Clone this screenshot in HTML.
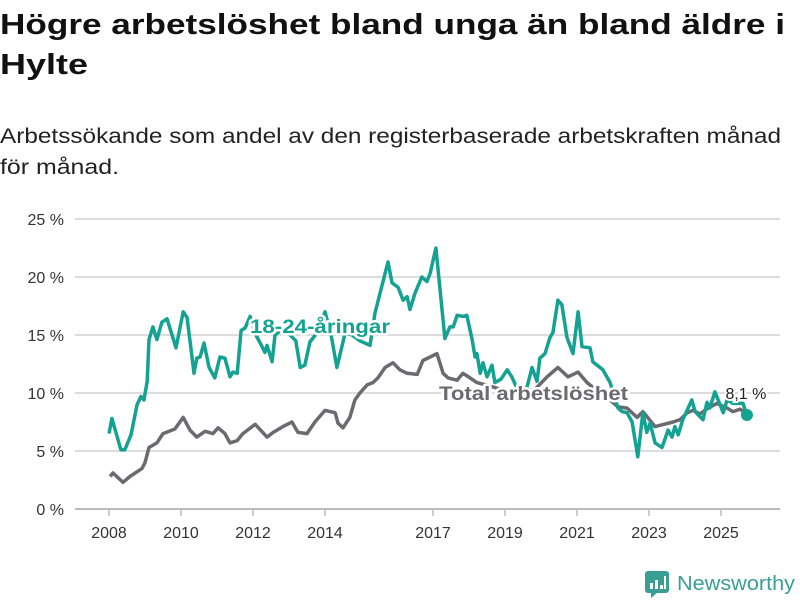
<!DOCTYPE html>
<html><head><meta charset="utf-8"><style>
html,body{margin:0;padding:0;background:#fff;width:800px;height:600px;overflow:hidden}
svg{display:block;font-family:"Liberation Sans",sans-serif}
</style></head><body>
<svg id="chart" width="800" height="600" viewBox="0 0 800 600">
<text x="0" y="34" font-size="29" font-weight="bold" fill="#111" textLength="785" lengthAdjust="spacingAndGlyphs">Högre arbetslöshet bland unga än bland äldre i</text>
<text x="0" y="74" font-size="29" font-weight="bold" fill="#111" textLength="88" lengthAdjust="spacingAndGlyphs">Hylte</text>
<text x="0" y="143" font-size="21" fill="#222" textLength="781" lengthAdjust="spacingAndGlyphs">Arbetssökande som andel av den registerbaserade arbetskraften månad</text>
<text x="0" y="174" font-size="21" fill="#222" textLength="119" lengthAdjust="spacingAndGlyphs">för månad.</text>
<g id="grid"></g>
<g id="yaxis"></g>
<g id="xaxis"></g>
<g id="series"></g>
<g>
<rect x="645" y="571" width="24" height="22" rx="3" fill="#3a9e95"/>
<polygon points="651,593 657,593 651,598" fill="#3a9e95"/>
<rect x="650" y="583" width="3" height="6" fill="#fff"/><rect x="655" y="580" width="3" height="9" fill="#fff"/><rect x="660" y="585" width="3" height="4" fill="#fff"/><rect x="664" y="576" width="2" height="13" fill="#fff"/>
<text x="677" y="590" font-size="20" fill="#3a9e95" textLength="118" lengthAdjust="spacingAndGlyphs">Newsworthy</text>
</g>
</svg>
<script>
const yTicks=[0,5,10,15,20,25];
const yTickLabels=["0 %","5 %","10 %","15 %","20 %","25 %"];
const xTicks=[2008,2010,2012,2014,2017,2019,2021,2023,2025];
const youthYears=[2008.00,2008.08,2008.33,2008.44,2008.61,2008.78,2008.89,2008.97,2009.06,2009.11,2009.22,2009.33,2009.47,2009.61,2009.86,2010.06,2010.17,2010.36,2010.44,2010.53,2010.64,2010.78,2010.94,2011.08,2011.22,2011.36,2011.44,2011.56,2011.67,2011.78,2011.92,2012.08,2012.25,2012.33,2012.39,2012.53,2012.61,2012.81,2013.03,2013.19,2013.31,2013.44,2013.58,2013.78,2014.00,2014.17,2014.33,2014.56,2014.75,2014.97,2015.25,2015.39,2015.75,2015.86,2016.03,2016.17,2016.28,2016.36,2016.50,2016.69,2016.83,2016.92,2017.08,2017.33,2017.47,2017.56,2017.67,2017.83,2017.94,2018.08,2018.17,2018.22,2018.31,2018.39,2018.50,2018.64,2018.72,2018.89,2019.06,2019.19,2019.39,2019.61,2019.75,2019.89,2019.97,2020.11,2020.25,2020.33,2020.47,2020.58,2020.72,2020.89,2021.03,2021.14,2021.36,2021.44,2021.72,2021.92,2022.14,2022.25,2022.39,2022.53,2022.69,2022.83,2022.94,2023.03,2023.17,2023.36,2023.53,2023.64,2023.72,2023.81,2023.94,2024.19,2024.28,2024.50,2024.61,2024.69,2024.83,2025.06,2025.17,2025.33,2025.61,2025.72];
const youthValues=[6.5,7.8,5.1,5.1,6.4,9.0,9.7,9.4,11.0,14.6,15.7,14.6,16.1,16.4,13.9,17.0,16.5,11.7,13.0,13.1,14.3,12.2,11.3,13.1,13.0,11.4,11.8,11.7,15.4,15.6,16.6,15.0,14.0,13.5,14.1,12.7,15.0,15.5,15.0,14.5,12.2,12.4,14.4,15.2,17.0,15.0,12.2,15.2,15.0,14.5,14.1,16.9,21.3,19.5,19.1,18.0,18.3,17.2,18.6,20.0,19.6,20.3,22.5,14.7,15.7,15.7,16.7,16.6,16.7,14.7,13.1,13.4,11.7,12.6,11.4,12.4,10.9,11.2,12.0,11.4,10.0,10.5,12.2,11.0,13.0,13.4,14.8,15.2,18.0,17.6,14.8,13.4,17.0,14.0,13.9,12.7,12.0,10.9,8.7,8.4,8.3,7.5,4.5,8.3,6.6,7.4,5.7,5.3,6.8,6.2,7.1,6.4,7.7,9.4,8.4,7.7,9.2,8.7,10.1,8.3,9.4,9.1,9.1,8.1];
const totalYears=[2008.03,2008.11,2008.39,2008.58,2008.92,2009.00,2009.11,2009.33,2009.50,2009.83,2010.06,2010.25,2010.44,2010.67,2010.89,2011.03,2011.22,2011.36,2011.56,2011.72,2012.06,2012.39,2012.56,2012.83,2013.08,2013.25,2013.50,2013.72,2014.00,2014.28,2014.36,2014.50,2014.69,2014.83,2014.97,2015.17,2015.33,2015.47,2015.67,2015.89,2016.08,2016.28,2016.56,2016.72,2016.92,2017.11,2017.28,2017.42,2017.67,2017.83,2018.03,2018.22,2018.58,2019.00,2019.42,2019.83,2020.17,2020.47,2020.75,2021.03,2021.28,2021.64,2021.92,2022.14,2022.39,2022.67,2022.83,2023.17,2023.67,2023.86,2024.06,2024.22,2024.42,2024.64,2024.89,2025.17,2025.33,2025.53,2025.67];
const totalValues=[2.8,3.1,2.3,2.8,3.5,4.0,5.3,5.7,6.5,6.9,7.9,6.8,6.2,6.7,6.5,7.0,6.5,5.7,5.9,6.5,7.3,6.2,6.6,7.1,7.5,6.6,6.5,7.5,8.5,8.3,7.4,7.0,7.9,9.4,10.0,10.7,10.9,11.3,12.2,12.6,12.0,11.7,11.6,12.8,13.1,13.4,11.7,11.3,11.1,11.7,11.3,10.9,10.6,10.2,10.0,10.3,11.4,12.2,11.4,11.8,10.9,10.0,9.4,8.8,8.7,7.9,8.4,7.1,7.5,7.7,8.3,8.5,8.2,8.7,9.1,8.7,8.4,8.6,8.3];
const NS='http://www.w3.org/2000/svg';
const X=y=>109+(y-2008)*36;
const Y=v=>509-v*11.6;
function mk(tag,attrs,parent){const e=document.createElementNS(NS,tag);for(const k in attrs)e.setAttribute(k,attrs[k]);parent.appendChild(e);return e;}
const grid=document.getElementById('grid'),ya=document.getElementById('yaxis'),xa=document.getElementById('xaxis'),ser=document.getElementById('series');
yTicks.forEach((t,i)=>{
 const l=mk('line',{x1:75,x2:780,y1:Y(t),y2:Y(t),stroke:t===0?'#bbb':'#ddd','stroke-width':2},grid);
 
 
 const tx=mk('text',{x:64,y:Y(t)+6,'text-anchor':'end','font-size':16,fill:'#333'},ya);
 tx.textContent=yTickLabels[i];
 
 
});
xTicks.forEach(t=>{
 const l=mk('line',{x1:X(t),x2:X(t),y1:510,y2:516,stroke:'#999','stroke-width':1},xa);
 
 
 const tx=mk('text',{x:X(t),y:538,'text-anchor':'middle','font-size':16,fill:'#333'},xa);
 tx.textContent=String(t);
 
 
});
function pathOf(xs,vs){return xs.map((x,i)=>(i?'L':'M')+X(x).toFixed(1)+','+Y(vs[i]).toFixed(1)).join('');}
const pt=mk('path',{d:pathOf(totalYears,totalValues),fill:'none',stroke:'#6b6a70','stroke-width':3.5,'stroke-linejoin':'round'},ser);


const py=mk('path',{d:pathOf(youthYears,youthValues),fill:'none',stroke:'#14a293','stroke-width':3.5,'stroke-linejoin':'round'},ser);


const lastI=youthYears.length-1;
const dot=mk('circle',{cx:X(youthYears[lastI]),cy:Y(youthValues[lastI]),r:6,fill:'#14a293'},ser);


const vl=mk('text',{x:X(youthYears[lastI])-1,y:Y(youthValues[lastI])-16,'text-anchor':'middle','font-size':16,fill:'#222',stroke:'#fff','stroke-width':4,'paint-order':'stroke'},ser);
vl.textContent=youthValues[lastI].toFixed(1).replace('.',',')+' %';


const ly=mk('text',{x:250,y:333,'font-size':19,'font-weight':'bold',fill:'#14a293',stroke:'#fff','stroke-width':5,'paint-order':'stroke','stroke-linejoin':'round',textLength:140,lengthAdjust:'spacingAndGlyphs'},ser);
ly.textContent='18-24-åringar';


const lt=mk('text',{x:439,y:400,'font-size':19,'font-weight':'bold',fill:'#6b6a70',stroke:'#fff','stroke-width':5,'paint-order':'stroke','stroke-linejoin':'round',textLength:189,lengthAdjust:'spacingAndGlyphs'},ser);
lt.textContent='Total arbetslöshet';


</script>
</body></html>
